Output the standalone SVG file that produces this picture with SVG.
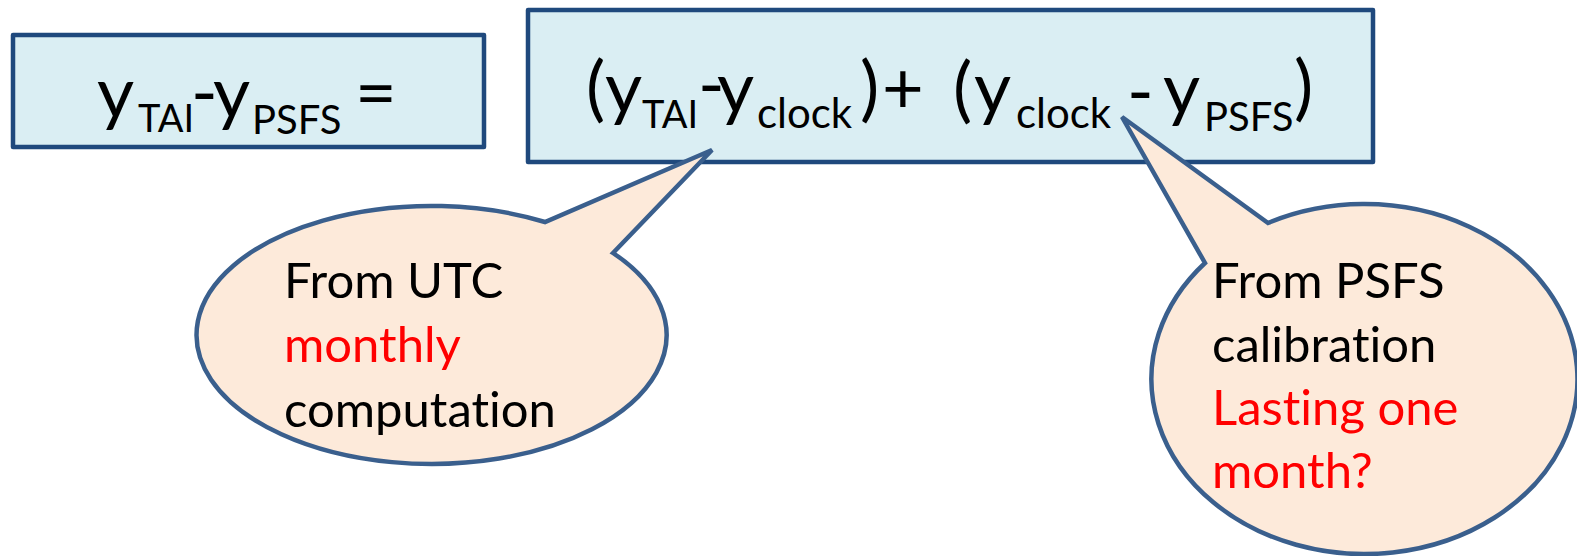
<svg xmlns="http://www.w3.org/2000/svg" width="1577" height="556" viewBox="0 0 1577 556">
<style>
.box{fill:#DAEEF3;stroke:#1F497D;stroke-width:4.5;stroke-linejoin:round}
.bal{fill:#FDEADA;stroke:#3A5F8D;stroke-width:4.5;stroke-linejoin:miter}
.t{font-family:Lato,"Liberation Sans",sans-serif;fill:#000;font-size:72px}
.s{font-size:38px}
.c{font-size:42px}
.p{font-size:40px}
.h{letter-spacing:-7px}
.b{font-family:Lato,"Liberation Sans",sans-serif;font-size:49px;fill:#000;font-variant-ligatures:none}
.r{fill:#FF0000}
</style>
<rect width="1577" height="556" fill="#FFFFFF"/>
<g id="box-left">
<rect class="box" x="13" y="35" width="471" height="112"/>
<text class="t"><tspan x="97" y="118">y</tspan><tspan class="s" x="138" y="132">TAI</tspan><tspan class="h" x="191" y="118">-</tspan><tspan x="213" y="118">y</tspan><tspan class="p" x="252" y="134">PSFS</tspan><tspan x="355" y="118">=</tspan></text>
</g>
<g id="box-right">
<rect class="box" x="528" y="10" width="845" height="152"/>
<text class="t"><tspan x="586" y="113">(</tspan><tspan x="605" y="113">y</tspan><tspan class="s" x="642" y="128">TAI</tspan><tspan class="h" x="698" y="110">-</tspan><tspan x="717" y="113">y</tspan><tspan class="c" x="757" y="128">clock</tspan><tspan x="860" y="113">)</tspan><tspan x="882" y="113">+</tspan><tspan x="953" y="114">(</tspan><tspan x="974" y="113">y</tspan><tspan class="c" x="1016" y="128">clock</tspan><tspan x="1127" y="117">-</tspan><tspan x="1163" y="114">y</tspan><tspan class="p" x="1204" y="131">PSFS</tspan><tspan x="1294" y="112">)</tspan></text>
</g>
<g id="callout-utc">
<path class="bal" d="M 613 253 L 712 150 L 545 222 A 235 129 0 1 0 613 253 Z"/>
<text class="b" x="284" y="298">From UTC</text>
<text class="b r" x="284" y="362">monthly</text>
<text class="b" x="284" y="427">computation</text>
</g>
<g id="callout-psfs">
<path class="bal" d="M 1268 223 L 1122 117 L 1205 263 A 213 175 0 1 0 1268 223 Z"/>
<text class="b" x="1212" y="298">From PSFS</text>
<text class="b" x="1212" y="362">calibration</text>
<text class="b r" x="1212" y="425">Lasting one</text>
<text class="b r" x="1212" y="488">month?</text>
</g>
<g id="connectors"></g>
</svg>
